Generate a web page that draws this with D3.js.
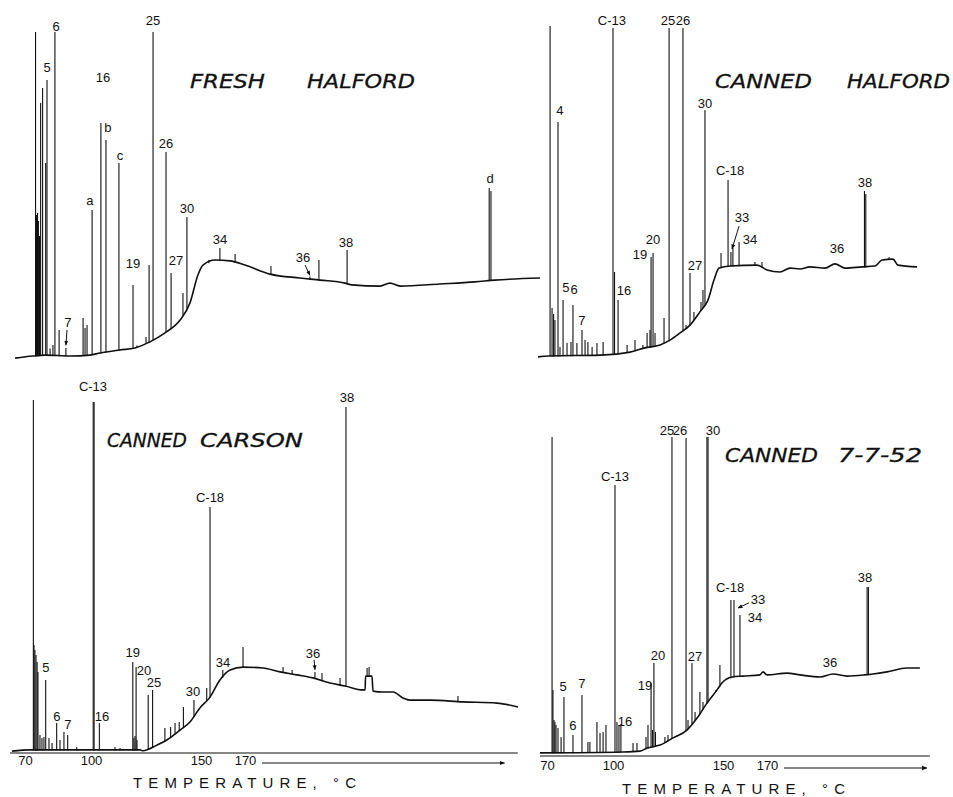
<!DOCTYPE html>
<html><head><meta charset="utf-8">
<script src="https://cdn.jsdelivr.net/npm/d3@7"></script>
<style>
body{margin:0;background:#fff;}
svg{display:block;background:#fff;}
.lbl{font-family:"Liberation Sans",Arial,sans-serif;font-size:13px;fill:#111;}
.title{font-family:"DejaVu Sans",sans-serif;font-style:italic;font-size:20px;fill:#111;stroke:#111;stroke-width:0.3;}
.tick text{font-family:"Liberation Sans",Arial,sans-serif;font-size:13px;fill:#111;}
.axt{font-family:"Liberation Sans",Arial,sans-serif;font-size:15px;fill:#111;}
</style></head><body><svg id="c" width="953" height="797"></svg>
<script>
// ---- axis tick labels (temperature, °C) ----
const tickLabels = [70, 100, 150, 170];

// ---- FRESH HALFORD : [temperature-equivalent, response] ----
const fhBase = [[65.5,-0.7],[73.6,0],[79.1,0.3],[90.5,0],[99.5,0.3],[104.1,1],[113.2,2],[120,2.7],[126.8,4.7],[133.6,7.7],[140.5,12],[145,17.7],[148.6,27],[150.9,30.3],[156.4,32],[163.2,31.7],[170,30.3],[181.4,27.3],[195,26],[204.1,25.3],[215.5,24.3],[218.6,23.7],[231.4,23.3],[235.9,24.3],[240.5,23.3],[258.6,24],[274.5,24.7],[283.6,25.3],[304.1,26]];
const fhPeaks = [[74.8,108],[75.2,47],[75.7,47.7],[76.1,45],[76.6,40],[77.1,84.3],[78.0,89.3],[79.4,64.3],[80.0,92],[81.4,2.5],[82.7,3.7],[83.6,108],[85.5,8.7],[88.6,2.7],[96.4,12.7],[97.3,9.3],[98.2,10.3],[100.5,48.7],[104.5,77.7],[106.8,72],[112.7,64.3],[119.1,23.7],[120.9,3.5],[125,6.3],[126.4,30.3],[128.2,108],[134.1,68],[136.4,27.7],[141.8,21],[143.6,46.3],[153.6,32],[158.6,36],[165.5,34],[181.8,30],[199.5,26.5],[203.6,32],[216.4,35.3],[281.0,56],[281.8,55]];
const fhLabels = [["6",84.1,109.7],["5",80,96.3],["16",105.5,93],["b",107.7,76.3],["c",113.2,66.7],["a",99.5,52],["25",128.2,111.7],["26",134.1,71],["30",143.6,49.3],["19",119.1,31],["27",138.6,32],["7",89.5,11.3],["34",158.6,39],["36",196.4,32.7],["38",215.9,37.7],["d",281.4,59.3]];
const fhArrows = [[89.1,8.7,88.6,3.6],[197.3,30.3,199.5,26.9]];

// ---- CANNED HALFORD ----
const chBase = [[65.9,-0.3],[70.5,0],[94.1,0.3],[107.7,1.3],[114.5,2.7],[121.4,3.7],[125.9,5.3],[130.5,7.7],[135,10.3],[139.5,14.7],[143.2,18.7],[145.9,25.3],[148.2,29.3],[153.2,30],[165.5,30.3],[170,28.7],[175.9,28],[180.5,29.3],[185,29],[189.5,29.7],[196.4,29.3],[200.9,30.7],[205.5,29.3],[213.2,29.7],[219.1,30],[222.3,32],[227.3,32.3],[229.5,30.3],[238.2,29.7]];
const chPeaks = [[71.4,110],[72.3,16],[73,14],[73.6,12],[75,78],[75.9,3],[77.3,18.7],[79.1,4.3],[80.9,4.7],[81.8,17],[83.6,4.3],[85.9,8.7],[87.3,5.3],[88.6,4.7],[90.5,3],[92.7,4.3],[95.5,4.7],[100,109.3],[100.7,28],[102.3,18.7],[106.4,3.7],[110,5.3],[113.6,3.7],[115.5,7.7],[116.8,8.7],[117.3,33],[118.2,34.3],[119.1,7.7],[123.2,12.7],[125.5,109.3],[131.8,109.3],[133.2,10.3],[135,27.7],[136.8,14.7],[138.2,13],[140,18],[140.9,22],[141.8,82],[149.1,34.3],[152.3,58.7],[153.6,34.7],[154.5,36],[157.3,38],[164.5,31.3],[167.7,31.3],[214.3,55],[214.9,54],[223.2,32.3],[225.5,33],[226.8,32.3]];
const chLabels = [["C-13",99.5,112],["25",125,112],["26",131.8,112],["4",75.9,82],["30",141.8,84.3],["C-18",153.2,62],["33",158.6,46.3],["34",162.3,38.7],["36",201.8,36],["38",214.5,58],["20",118.2,39],["19",112.3,33.7],["27",137.3,30.3],["5",78.6,23],["6",82.3,22.3],["16",105,21.7],["7",85.9,12]];
const chArrows = [[157.3,43.3,154.1,35.7]];

// ---- CANNED CARSON ----
const ccBase = [[64.1,0.3],[72.3,0.7],[122.3,0.7],[123.6,0.4],[130,2.3],[134.5,4],[140.5,7.3],[145,10],[149.5,14.7],[154.1,18.3],[158.6,24],[163.2,27.3],[169.1,28.3],[178.2,28],[185.9,26.7],[193.6,25.7],[200.9,24.7],[208.6,23],[215.5,22],[223.6,20.7],[224.6,20.7],[224.8,25.3],[227.7,25.3],[228.2,20.3],[232.7,20],[237.3,20],[241.8,18],[245,17.3],[254.1,17.3],[269.1,16.7],[284.5,16.3],[294.1,15]];
const ccPeaks = [[73.8,117.3],[74.1,35.7],[74.5,34],[75,32.3],[75.5,30],[75.9,26.7],[76.8,5.7],[77.7,4.7],[78.6,5],[79.4,24],[80.9,4.7],[82.3,3],[84.4,9.7],[85.9,4],[87.7,6.7],[89.4,5.7],[93.5,1.7],[101,116.7],[101.4,116.7],[103.8,9.7],[110.9,1.7],[113.2,1.3],[119,30],[119.5,4.7],[120,5.3],[120.5,28.3],[120.9,4],[126,19],[128,20.7],[133.6,8],[136.2,8.3],[138.2,9.7],[140.1,10],[142,15],[146.8,17.3],[152.6,21.3],[154.1,81.7],[159.9,27.3],[169.1,35],[187.3,28.3],[191.4,27.3],[201.8,26.7],[205,26.3],[213.2,24.7],[215.9,115],[225.5,28],[226.4,28.3],[266.8,18.7]];
const ccLabels = [["C-13",100.9,121.7],["C-18",154.1,85],["38",216.4,118.3],["5",79.5,28.3],["6",84.5,12],["7",89.5,9.3],["16",105,12],["19",119,33.3],["20",124.1,27.3],["25",128.6,23.3],["30",146.4,20.3],["34",160,30],["36",200.9,33]];
const ccArrows = [[201.4,30.7,201.8,27.4]];

// ---- CANNED 7-7-52 ----
const c7Base = [[66.8,-0.3],[104.5,0],[112.3,0.3],[115.5,1.3],[121.4,2.3],[127.3,4.7],[133.6,7.3],[138.2,11.3],[142.7,16.3],[147.3,20.7],[149.5,23],[154.1,25],[159.1,25.3],[166.8,25.7],[168.2,26.7],[170,25.7],[179.1,26.3],[185,25.7],[194.1,25],[200,26],[206.4,25.3],[214.5,25.7],[218.2,26],[224.5,26.7],[233.6,28],[239.5,28]];
const c7Peaks = [[72.3,105],[72.7,20.7],[73.2,10.7],[73.6,10],[74.1,9],[75,8],[76.4,5],[77.7,18.3],[81.8,5.7],[85.9,19],[88.6,3.3],[89.5,3.3],[92.7,10],[94.1,6.3],[95.5,6.7],[96.8,9],[100.9,89],[101.8,10],[102.7,9],[103.6,9.3],[109.1,3],[110.9,3],[115,5],[115.9,9],[117.3,23],[118,7.3],[118.6,29.7],[119.3,6.7],[123.6,5],[125,5.7],[126.8,105],[129.1,5.7],[133.2,104.7],[134.1,10.7],[135.9,29.7],[137.3,13.3],[139.5,20],[140.9,16.7],[142.7,105],[143.2,105],[146.8,20.7],[148.6,29],[153.6,50.7],[155,50.7],[157.7,45.7],[215.5,55],[216.1,55]];
const c7Labels = [["C-13",100.9,92],["25",124.5,107.3],["26",130.5,107.3],["30",145.5,107.3],["C-18",153.2,54.7],["33",165.9,50.7],["34",164.5,44.7],["36",198.6,29.7],["38",214.5,58.3],["20",120.5,32.3],["19",114.5,22.3],["27",137.3,31.7],["5",77.3,22],["7",85.9,22.7],["6",81.8,8.7],["16",105.5,10.3]];
const c7Arrows = [[161.8,49.7,156.8,48]];

// ---- scales ----
const svg = d3.select("#c");
const xL = d3.scaleLinear().domain([70,170]).range([25,245]);
const xR = d3.scaleLinear().domain([70,170]).range([547,767]);
const yT = d3.scaleLinear().domain([0,110]).range([356,26]);
const yB = d3.scaleLinear().domain([0,120]).range([752,392]);

svg.append("defs").append("marker").attr("id","ah").attr("viewBox","0 0 10 10")
  .attr("refX",9).attr("refY",5).attr("markerWidth",5).attr("markerHeight",5)
  .attr("orient","auto").append("path").attr("d","M0,1L10,5L0,9z").attr("fill","#111");

function drawPanel(p){
  const g = svg.append("g");
  const x = p.x, y = p.y, base = p.base;
  const bx = base.map(d=>d[0]);
  function baseAt(t){
    const i = d3.bisectLeft(bx,t);
    if(i<=0) return base[0][1];
    if(i>=base.length) return base[base.length-1][1];
    const a=base[i-1], b=base[i];
    return a[1]+(b[1]-a[1])*(t-a[0])/(b[0]-a[0]);
  }
  g.append("path").datum(base)
    .attr("d", d3.line().x(d=>x(d[0])).y(d=>y(d[1])).curve(d3.curveMonotoneX))
    .attr("fill","none").attr("stroke","#111").attr("stroke-width",1.6);
  g.selectAll("line.pk").data(p.peaks).join("line").attr("class","pk")
    .attr("x1",d=>x(d[0])).attr("x2",d=>x(d[0]))
    .attr("y1",d=>y(baseAt(d[0]))+0.6)
    .attr("y2",d=>y(Math.max(d[1],baseAt(d[0]))))
    .attr("stroke","#111").attr("stroke-width",1.1);
  g.selectAll("text.lbl").data(p.labels).join("text").attr("class","lbl")
    .attr("x",d=>x(d[1])).attr("y",d=>y(d[2]))
    .attr("text-anchor","middle").attr("dominant-baseline","central")
    .text(d=>d[0]);
  g.selectAll("line.ar").data(p.arrows).join("line").attr("class","ar")
    .attr("x1",d=>x(d[0])).attr("y1",d=>y(d[1]))
    .attr("x2",d=>x(d[2])).attr("y2",d=>y(d[3]))
    .attr("stroke","#111").attr("stroke-width",1).attr("marker-end","url(#ah)");
  p.title.forEach(t=>{
    g.append("text").attr("class","title").attr("x",t[1]).attr("y",p.titleY)
      .attr("textLength",t[2]).attr("lengthAdjust","spacingAndGlyphs").text(t[0]);
  });
  if(p.axis){
    const ax = p.axis;
    const ag = g.append("g").attr("transform",`translate(0,${ax.y})`)
      .call(d3.axisBottom(x).tickValues(tickLabels).tickSize(0).tickPadding(ax.pad));
    ag.select(".domain").remove();
    g.append("line").attr("x1",x(ax.from)).attr("x2",x(ax.to))
      .attr("y1",ax.y).attr("y2",ax.y).attr("stroke","#111").attr("stroke-width",1.2);
    g.append("line").attr("x1",x(170)+17).attr("x2",x(ax.arrowTo))
      .attr("y1",ax.y+ax.pad+7).attr("y2",ax.y+ax.pad+7)
      .attr("stroke","#111").attr("stroke-width",1.1).attr("marker-end","url(#ah)");
    g.append("text").attr("class","axt").attr("x",ax.textX).attr("y",ax.textY)
      .attr("textLength",ax.textW).attr("lengthAdjust","spacing")
      .attr("dominant-baseline","central").text("TEMPERATURE, °C");
  }
}

drawPanel({x:xL,y:yT,base:fhBase,peaks:fhPeaks,labels:fhLabels,arrows:fhArrows,
  title:[["FRESH",190,75],["HALFORD",307,108]],titleY:88});
drawPanel({x:xR,y:yT,base:chBase,peaks:chPeaks,labels:chLabels,arrows:chArrows,
  title:[["CANNED",715,97],["HALFORD",847,103]],titleY:88});
drawPanel({x:xL,y:yB,base:ccBase,peaks:ccPeaks,labels:ccLabels,arrows:ccArrows,
  title:[["CANNED",107,80],["CARSON",200,103]],titleY:447,
  axis:{y:753,pad:3,from:63.2,to:294,arrowTo:288,textX:133,textY:782,textW:223}});
drawPanel({x:xR,y:yB,base:c7Base,peaks:c7Peaks,labels:c7Labels,arrows:c7Arrows,
  title:[["CANNED",725,93],["7-7-52",838,84]],titleY:462,
  axis:{y:756,pad:5,from:66.8,to:244,arrowTo:242.7,textX:622,textY:788,textW:223}});
</script></body></html>
